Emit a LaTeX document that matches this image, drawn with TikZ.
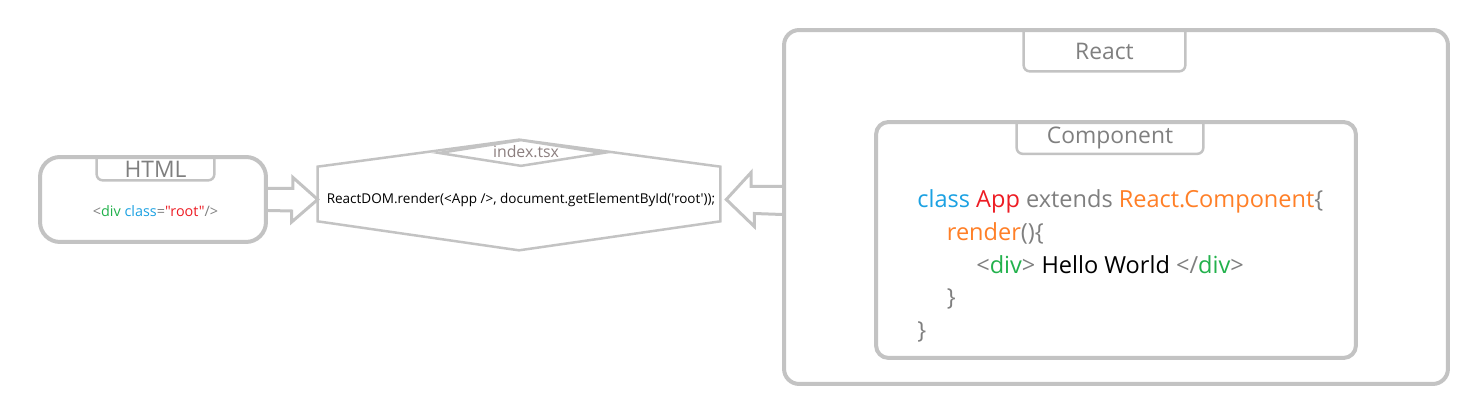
\documentclass[tikz,border=0pt]{standalone}
\usepackage{fontspec}
\setmainfont{Open Sans}[Ligatures=TeXOff]
\usetikzlibrary{positioning}

\definecolor{edge}{HTML}{C3C3C3}
\definecolor{lbl}{HTML}{7F7F7F}
\definecolor{tsx}{HTML}{8C7F7F}
\definecolor{kwblue}{HTML}{1BA1E2}
\definecolor{clsred}{HTML}{ED1C24}
\definecolor{fnorange}{HTML}{FF7F27}
\definecolor{taggreen}{HTML}{22B14C}

\begin{document}
\begin{tikzpicture}[
  x=0.02cm, y=-0.02cm,
  panel/.style={draw=edge, line width=0.08cm, rounded corners=0.3cm, inner sep=0pt},
  tabbox/.style={inner sep=0pt, text=lbl, font=\fontsize{13pt}{15pt}\selectfont},
  tabline/.style={draw=edge, line width=0.05cm, rounded corners=0.12cm},
  hexline/.style={draw=edge, line width=0.05cm},
  blockarr/.style={draw=edge, line width=0.06cm, line join=miter},
]
  \useasboundingbox (0,0) rectangle (1472,411);

  % HTML side
  \node[panel, rounded corners=0.4cm, minimum width=4.52cm, minimum height=1.7cm] (html) at (153,199.5) {};
  \node[tabbox, minimum width=2.34cm, minimum height=0.44cm] (htmltab) at (155.5,169) {HTML};
  \draw[tabline] (htmltab.north west) -- (htmltab.south west) -- (htmltab.south east) -- (htmltab.north east);
  \node[inner sep=0pt, font=\fontsize{8.2pt}{9pt}\selectfont] (rootdiv) at (155.5,211)
    {\textcolor{lbl}{<}\textcolor{taggreen}{div} \textcolor{kwblue}{class}\textcolor{lbl}{=}\textcolor{clsred}{"root"}\textcolor{lbl}{/>}};

  % index.tsx hexagon
  \node[minimum width=8.04cm, minimum height=1.08cm, inner sep=0pt] (hex) at (519,194) {};
  \draw[hexline] (hex.north west) -- ([yshift=0.54cm]hex.north) -- (hex.north east)
    -- (hex.south east) -- ([yshift=-0.58cm]hex.south) -- (hex.south west) -- cycle;
  \node[minimum width=3.26cm, minimum height=0.5cm, inner sep=0pt] (tsx) at (521,153) {};
  \draw[hexline, fill=white] (tsx.west) -- (tsx.north) -- (tsx.east) -- (tsx.south) -- cycle;
  \node[inner sep=0pt, text=tsx, font=\fontsize{9pt}{10pt}\selectfont] (tsxlbl) at (526,152) {index.tsx};
  \node[inner sep=0pt, font=\fontsize{7.7pt}{10pt}\selectfont] (render) at (521,200)
    {ReactDOM.render(<App />, document.getElementById('root'));};

  % React side
  \node[panel, minimum width=13.28cm, minimum height=7.08cm] (react) at (1116,207) {};
  \node[tabbox, minimum width=3.22cm, minimum height=0.8cm] (reacttab) at (1104.5,51) {React};
  \draw[tabline] (reacttab.north west) -- (reacttab.south west) -- (reacttab.south east) -- (reacttab.north east);
  \node[panel, rounded corners=0.25cm, minimum width=9.6cm, minimum height=4.72cm] (comp) at (1116,240) {};
  \node[tabbox, minimum width=3.72cm, minimum height=0.62cm] (comptab) at (1110,138) {Component};
  \draw[tabline] (comptab.north west) -- (comptab.south west) -- (comptab.south east) -- (comptab.north east);
  \node[inner sep=0pt, anchor=west, align=left, font=\fontsize{13.4pt}{18.7pt}\selectfont] (code) at (917,266)
    {\textcolor{kwblue}{class} \textcolor{clsred}{App} \textcolor{lbl}{extends} \textcolor{fnorange}{React.Component}\textcolor{lbl}{\{}\\
     \hspace*{0.59cm}\textcolor{fnorange}{render}\textcolor{lbl}{()\{}\\
     \hspace*{1.18cm}\textcolor{lbl}{<}\textcolor{taggreen}{div}\textcolor{lbl}{>} Hello World \textcolor{lbl}{</}\textcolor{taggreen}{div}\textcolor{lbl}{>}\\
     \hspace*{0.59cm}\textcolor{lbl}{\}}\\
     \textcolor{lbl}{\}}};

  % block arrows
  \draw[blockarr] ([yshift=0.22cm]html.east) -- ++(25,0) -- ++(0,-11)
    -- (hex.west |- html.east) -- ++(-26,22.5) -- ++(0,-11) -- ([yshift=-0.22cm]html.east);
  \draw[blockarr] ([yshift=0.26cm]react.west |- html.east) -- ++(-31,0) -- ++(0,-14)
    -- ([xshift=0.12cm]hex.east |- html.east) -- ++(28,27) -- ++(0,-13) -- ([yshift=-0.3cm]react.west |- html.east);
\end{tikzpicture}
\end{document}
